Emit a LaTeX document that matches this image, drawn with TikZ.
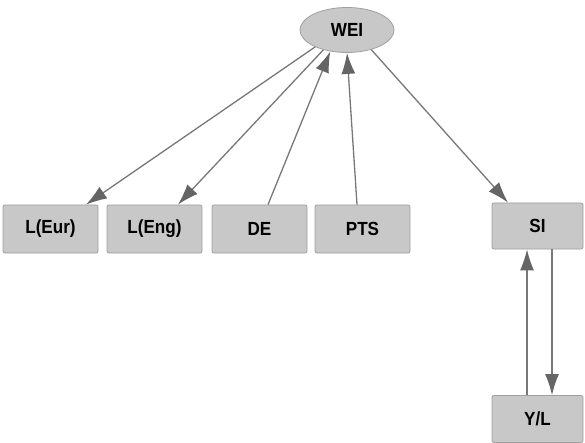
\documentclass[tikz,border=0pt]{standalone}
\usepackage{fontspec}
\newfontfamily\labfont[FakeStretch=0.9]{Liberation Sans}
\usetikzlibrary{shapes.geometric,arrows.meta,calc}
\definecolor{boxfill}{HTML}{C8C8C8}
\definecolor{boxline}{HTML}{A0A0A0}
\definecolor{edgecol}{HTML}{787878}
\definecolor{headcol}{HTML}{656565}
\begin{document}
\begin{tikzpicture}[x=1pt,y=-1pt,
  lab/.style={font=\labfont\bfseries\fontsize{19}{22}\selectfont, text=black},
  box/.style={lab, draw=boxline, fill=boxfill, line width=0.8pt, rounded corners=2pt,
    minimum width=95pt, minimum height=48pt, inner sep=0pt},
  oval/.style={lab, ellipse, draw=boxline, fill=boxfill, line width=0.8pt,
    minimum width=94pt, minimum height=45pt, inner sep=0pt},
  edge/.style={draw=edgecol, line width=1.3pt,
    -{Latex[length=21pt,width=14pt,color=headcol]}}
]
\useasboundingbox (0,0) rectangle (585,443);
\fill[white] (0,0) rectangle (585,443);

\node[oval] (wei) at (347,30) {WEI};
\node[box] (leu) at (50.5,229) {L(Eur)};
\node[box] (len) at (154.5,229) {L(Eng)};
\node[box] (de) at (259.5,229) {DE};
\node[box] (pts) at (362.5,229) {PTS};
\node[box, minimum width=91pt, minimum height=46pt] (si) at (537.5,226) {SI};
\node[box, minimum width=91pt, minimum height=47pt] (yl) at (537.5,419) {Y/L};

\draw[edge] (wei.208) -- ($(leu.north)+(35.5,0)$);
\draw[edge] (wei.220) -- ($(len.north)+(23.5,0)$);
\draw[edge] ($(de.north)+(8.5,0)$) -- (wei.232);
\draw[edge] ($(pts.north)+(-5.5,0)$) -- (wei.270);
\draw[edge] (wei.321) -- ($(si.north)+(-29.5,0)$);
\draw[edge] ($(yl.north)+(-10.5,0)$) -- ($(si.south)+(-10.5,0)$);
\draw[edge] ($(si.south)+(14.5,0)$) -- ($(yl.north)+(14.5,0)$);
\end{tikzpicture}
\end{document}
